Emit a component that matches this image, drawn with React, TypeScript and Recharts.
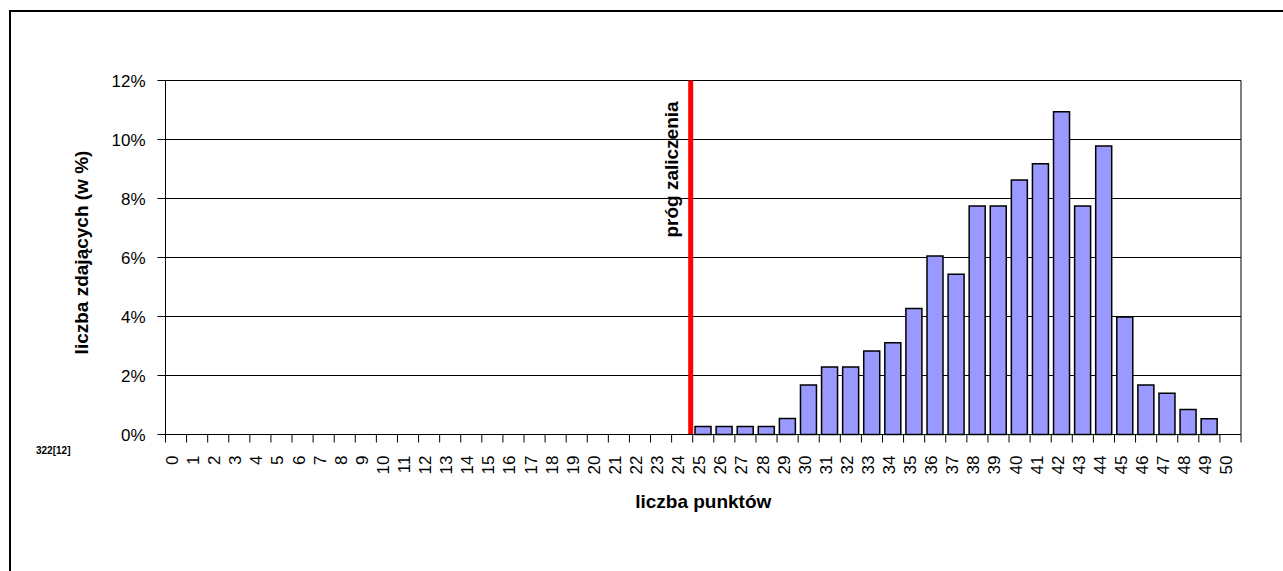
import React from 'react'
import { BarChart, Bar, XAxis, YAxis, CartesianGrid, ReferenceLine } from 'recharts'

// punkty 0..50
const points = [
  0, 1, 2, 3, 4, 5, 6, 7, 8, 9, 10, 11, 12, 13, 14, 15, 16, 17, 18, 19, 20,
  21, 22, 23, 24, 25, 26, 27, 28, 29, 30, 31, 32, 33, 34, 35, 36, 37, 38, 39, 40,
  41, 42, 43, 44, 45, 46, 47, 48, 49, 50,
]

// odsetek zdających (w %)
const shares = [
  0, 0, 0, 0, 0, 0, 0, 0, 0, 0, 0, 0, 0, 0, 0, 0, 0, 0, 0, 0, 0,
  0, 0, 0, 0, 0.27, 0.27, 0.27, 0.27, 0.54, 1.68, 2.29, 2.29, 2.83, 3.11, 4.27, 6.05, 5.43, 7.75, 7.75, 8.63,
  9.18, 10.94, 7.75, 9.78, 3.98, 1.68, 1.4, 0.85, 0.53, 0,
]

const yTicks = [0, 2, 4, 6, 8, 10, 12]
const passMark = 25
const xTitle = 'liczba punktów'
const yTitle = 'liczba zdających (w %)'
const markTitle = 'próg zaliczenia'
const sourceNote = '322[12]'

const data = points.map((p, i) => ({ pkt: p, pct: shares[i] }))

const W = 1270
const H = 560
// pół piksela, żeby linie siatki były ostre
const M = { top: 80.5, right: 29, bottom: 65.5, left: 105.5 }
const Y_W = 60
const FONT = 'Arial, "Liberation Sans", sans-serif'
const band = (W - M.left - Y_W - M.right) / points.length

function PointTick(props: any) {
  const { x, y, payload } = props
  const left = x - band / 2
  const last = payload.value === points[points.length - 1]
  return (
    <g>
      <line x1={left} y1={y} x2={left} y2={y + 8} stroke="#000" />
      {last && <line x1={left + band} y1={y} x2={left + band} y2={y + 8} stroke="#000" />}
      <text
        transform={`translate(${x + 2}, ${y + 21}) rotate(-90)`}
        textAnchor="end"
        fontSize={17}
        fontFamily={FONT}
        fill="#000"
      >
        {payload.value}
      </text>
    </g>
  )
}

function YTitle(props: any) {
  const vb = props.viewBox
  return (
    <text
      transform={`translate(${vb.x - 18}, ${vb.y + vb.height / 2 - 5}) rotate(-90)`}
      textAnchor="middle"
      fontSize={19}
      fontWeight="bold"
      fontFamily={FONT}
      fill="#000"
    >
      {yTitle}
    </text>
  )
}

function XTitle(props: any) {
  const vb = props.viewBox
  return (
    <text
      x={vb.x + vb.width / 2}
      y={vb.y + 73}
      textAnchor="middle"
      fontSize={19}
      fontWeight="bold"
      fontFamily={FONT}
      fill="#000"
    >
      {xTitle}
    </text>
  )
}

function MarkTitle(props: any) {
  const vb = props.viewBox
  return (
    <text
      transform={`translate(${vb.x - 15}, ${vb.y + 89}) rotate(-90)`}
      textAnchor="middle"
      fontSize={19}
      fontWeight="bold"
      fontFamily={FONT}
      fill="#000"
    >
      {markTitle}
    </text>
  )
}

// czerwona linia lekko na lewo od granicy kategorii, jak w oryginale
function MarkLine(props: any) {
  const { x1, y1, x2, y2 } = props
  return <line x1={x1 - 2} y1={y1} x2={x2 - 2} y2={y2} stroke="#ff0000" strokeWidth={5} />
}

export default function App() {
  return (
    <div>
      <div
        style={{
          position: 'absolute', left: 9, top: 10, width: 1272, height: 559,
          borderLeft: '2px solid #000', borderTop: '2px solid #000',
        }}
      />
      <div
        style={{
          position: 'absolute', left: 36, top: 445, fontSize: 10, fontWeight: 'bold',
          fontFamily: '"Liberation Sans Narrow", "Arial Narrow", Arial, sans-serif', color: '#000',
        }}
      >
        {sourceNote}
      </div>
      <div style={{ position: 'absolute', left: 0, top: 0 }}>
        <BarChart width={W} height={H} data={data} margin={M} barCategoryGap="11%">
          <CartesianGrid vertical={false} stroke="#000" />
          <XAxis
            dataKey="pkt"
            interval={0}
            height={60}
            tickSize={0}
            tickMargin={0}
            tickLine={false}
            axisLine={{ stroke: '#000' }}
            tick={<PointTick />}
            label={{ content: XTitle }}
          />
          <YAxis
            width={Y_W}
            domain={[0, 12]}
            ticks={yTicks}
            tickFormatter={(v) => `${v}%`}
            tickSize={8}
            tickMargin={12}
            tickLine={{ stroke: '#000' }}
            axisLine={{ stroke: '#000' }}
            tick={{ fontSize: 17, fill: '#000', fontFamily: FONT }}
            label={{ content: YTitle }}
          />
          <Bar dataKey="pct" fill="#9999ff" stroke="#000" strokeWidth={1.5} isAnimationActive={false} />
          <ReferenceLine x={points[points.length - 1]} position="end" stroke="#000" />
          <ReferenceLine
            x={passMark}
            position="start"
            stroke="#ff0000"
            strokeWidth={5}
            shape={MarkLine}
            label={{ content: MarkTitle }}
          />
        </BarChart>
      </div>
    </div>
  )
}
